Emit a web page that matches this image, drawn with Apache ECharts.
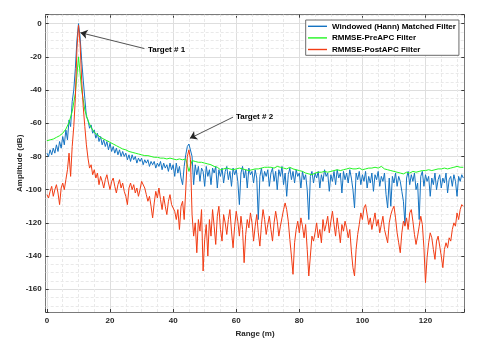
<!DOCTYPE html>
<html><head><meta charset="utf-8">
<script src="https://cdn.jsdelivr.net/npm/echarts@6/dist/echarts.min.js"></script>
<style>html,body{margin:0;padding:0;background:#fff}#c{width:491px;height:343px}</style>
</head><body><div id="c"></div>
<script>
// ---------- data ----------
const seriesNames = ['Windowed (Hann) Matched Filter', 'RMMSE-PreAPC Filter', 'RMMSE-PostAPC Filter'];
const fineStep = 0.5;   // range sample spacing (m) for the matched filter and PostAPC curves
const coarseStep = 1;   // range sample spacing (m) for the PreAPC curve

// Windowed (Hann) matched filter, dB, samples every 0.5 m from 0 m
const hannMF = [
  -78,-80,-76,-79,-75,-78,-73,-77,-71,-75,
  -68,-73,-64,-70,-58,-62,-47,-40,-27,-10,
  0,-8,-22,-34,-45,-56,-58,-63,-61,-66,
  -64,-69,-66,-71,-68,-73,-70,-74,-71,-76,
  -72,-77,-74,-78,-75,-79,-76,-80,-77,-80,
  -78,-82,-79,-83,-79,-82,-80,-84,-81,-83,
  -81,-85,-82,-84,-82,-86,-83,-85,-83,-87,
  -84,-86,-83,-88,-84,-87,-85,-89,-84,-88,
  -85,-92,-84,-90,-86,-93,-97,-86,-79,-74,
  -72.5,-73.5,-80,-97,-85,-91,-86,-95,-87,-89,
  -98,-86,-92,-88,-97,-87,-90,-86,-99,-88,
  -92,-87,-96,-89,-86,-94,-89,-98,-87,-91,
  -88,-95,-109,-90,-86,-93,-88,-99,-87,-91,
  -89,-96,-88,-93,-118,-92,-87,-95,-89,-92,
  -88,-98,-90,-87,-95,-89,-100,-88,-92,-86,
  -97,-90,-104,-91,-87,-94,-89,-96,-88,-92,
  -90,-99,-89,-94,-91,-100,-118,-92,-89,-96,
  -90,-93,-89,-99,-91,-95,-88,-92,-90,-101,
  -91,-95,-89,-97,-88,-93,-90,-102,-89,-94,
  -90,-96,-88,-93,-100,-111,-90,-94,-89,-97,
  -91,-95,-89,-99,-92,-96,-90,-101,-91,-94,
  -89,-98,-92,-95,-90,-103,-111,-93,-110,-92,
  -96,-90,-98,-92,-95,-101,-107,-121,-93,-89,
  -97,-91,-95,-90,-100,-96,-118,-92,-89,-98,
  -91,-95,-92,-104,-93,-97,-90,-100,-94,-91,
  -99,-93,-96,-90,-102,-94,-92,-98,-91,-95,
  -104,-92,-95,-91,-93
];

// RMMSE PreAPC filter, dB, samples every 1 m from 0 m
const preAPC = [
  -70.5,-70,-69.5,-68.5,-67.5,-66,-63.5,-59.5,-53,-42,
  -20,-40,-52,-58.5,-62.5,-65.5,-67,-68.5,-69.5,-70.5,
  -71.5,-72.5,-73.5,-74.5,-75.5,-76,-77,-77.5,-78,-78.5,
  -79,-79.5,-79.5,-80,-80.5,-80.5,-81,-81,-81.5,-81,
  -81.5,-82,-81.5,-82,-81.5,-89,-82.5,-83,-83.5,-83.5,
  -84,-84.5,-85,-86,-86.5,-88,-87.5,-87,-87.5,-88,
  -87.5,-87,-87.5,-88,-88.5,-88,-87.5,-87.5,-87,-86.5,
  -86.5,-86.5,-87,-86,-86.5,-87,-87.5,-86.5,-87.5,-88,
  -88.5,-89,-90,-90.5,-91,-90,-89.5,-89.5,-89,-89.5,
  -89,-88.5,-88,-88.5,-88,-87.5,-87,-87.5,-87.5,-87,
  -88,-87.5,-87,-87,-86.5,-87,-86,-87.5,-88,-88.5,
  -89,-89.5,-90,-90.5,-89.5,-90,-89,-89.5,-89,-88.5,
  -88.5,-88,-88.5,-88,-87.5,-87.5,-87,-87.5,-87,-86.5,
  -86,-86.5,-86.5
];

// RMMSE PostAPC filter, dB, samples every 0.5 m from 0 m
const postAPC = [
  -103,-105,-101,-98,-104,-100,-97,-102,-109,-99,
  -96,-100,-94,-88,-78,-92,-74,-62,-45,-15,
  -1,-12,-34,-50,-62,-73,-81,-87,-85,-91,
  -88,-93,-90,-97,-92,-95,-99,-94,-91,-96,
  -100,-95,-93,-98,-102,-97,-94,-99,-96,-101,
  -104,-109,-99,-96,-100,-97,-102,-99,-104,-100,
  -95,-94,-99,-103,-107,-104,-110,-117,-108,-101,
  -105,-99,-106,-112,-104,-110,-115,-107,-103,-109,
  -108,-113,-118,-112,-124,-110,-107,-118,-100,-80,
  -76,-82,-115,-128,-120,-138,-118,-125,-112,-149,
  -130,-121,-140,-118,-128,-112,-122,-133,-116,-110,
  -124,-131,-115,-120,-127,-118,-112,-125,-135,-122,
  -113,-119,-128,-116,-124,-144,-127,-118,-123,-114,
  -120,-131,-122,-115,-126,-134,-121,-112,-118,-127,
  -121,-116,-124,-131,-120,-113,-119,-128,-122,-117,
  -112,-108,-112,-119,-130,-140,-151,-132,-124,-119,
  -126,-117,-122,-129,-121,-136,-152,-140,-128,-131,
  -126,-120,-129,-124,-132,-118,-125,-121,-116,-126,
  -119,-113,-121,-128,-117,-124,-132,-121,-125,-119,
  -123,-129,-124,-137,-147,-152,-136,-127,-121,-114,
  -118,-111,-109,-115,-121,-117,-124,-119,-114,-122,
  -118,-126,-121,-116,-124,-128,-132,-120,-115,-112,
  -110,-117,-126,-132,-138,-126,-119,-122,-117,-124,
  -114,-112,-119,-127,-133,-128,-122,-116,-121,-135,
  -156,-141,-132,-126,-129,-136,-142,-131,-128,-134,
  -140,-147,-136,-132,-135,-129,-131,-124,-120,-122,
  -114,-118,-112,-109,-110
];

const xMajorTicks = [0, 20, 40, 60, 80, 100, 120];
const yMajorTicks = [0, -20, -40, -60, -80, -100, -120, -140, -160];
const minorStep = 5;

// annotation arrows (data coordinates): label anchor, arrow tail, arrow head
const annotationText = ['Target # 1', 'Target # 2'];
const annotationLabelAt = [[32.0, -15.7], [59.9, -56.0]];
const annotationTail = [[30.9, -15.0], [59.0, -56.3]];
const annotationHead = [[10.6, -5.4], [45.3, -69.1]];

// ---------- chart ----------
const FONT = '"Liberation Sans", Arial, Helvetica, sans-serif';
const colors = ['#1473c2', '#22f522', '#f23c14'];
const xMin = -0.4, xMax = 132.3, yMin = -173.7, yMax = 5.4;

function toPairs(vals, step) { return vals.map((v, i) => [i * step, v]); }

const minorLines = [];
for (let v = minorStep; v <= xMax; v += minorStep) if (v % 20 !== 0) minorLines.push({ xAxis: v });
for (let v = -170; v <= yMax; v += minorStep) if (v % 20 !== 0) minorLines.push({ yAxis: v });

const labelFmt = (ticks) => (v) => ticks.some(t => Math.abs(t - v) < 1e-6) ? String(v) : '';

const axisCommon = {
  type: 'value',
  axisLine: { show: true, onZero: false, lineStyle: { color: '#7a7a7a', width: 1 } },
  axisTick: { show: true, inside: true, length: 3, lineStyle: { color: '#3a3a3a', width: 1 } },
  minorTick: { show: false },
};
const tickLabel = { fontSize: 8, fontWeight: 'bold', color: '#262626', fontFamily: FONT };
const nameStyle = { fontSize: 8, fontWeight: 'bold', color: '#262626', fontFamily: FONT };

const chart = echarts.init(document.getElementById('c'), null, { renderer: 'canvas' });
chart.setOption({
  animation: false,
  backgroundColor: '#ffffff',
  grid: { left: 45.7, right: 26.7, top: 14.7, bottom: 28.7, containLabel: false },
  xAxis: [
    Object.assign({}, axisCommon, {
      min: xMin, max: xMax, splitNumber: 7, position: 'bottom',
      axisLabel: Object.assign({ margin: 5, formatter: labelFmt(xMajorTicks) }, tickLabel),
      splitLine: { show: true, lineStyle: { color: '#dedede', width: 1 } },
      name: 'Range (m)', nameLocation: 'middle', nameGap: 18, nameMoveOverlap: false,
      nameTextStyle: nameStyle
    }),
    Object.assign({}, axisCommon, {
      min: xMin, max: xMax, splitNumber: 7, position: 'top',
      axisLabel: { show: false }, splitLine: { show: false }
    })
  ],
  yAxis: [
    Object.assign({}, axisCommon, {
      min: yMin, max: yMax, splitNumber: 9, position: 'left',
      axisLabel: Object.assign({ margin: 4, formatter: labelFmt(yMajorTicks) }, tickLabel),
      splitLine: { show: true, lineStyle: { color: '#dedede', width: 1 } },
      name: 'Amplitude (dB)', nameLocation: 'middle', nameGap: 22, nameRotate: 90,
      nameMoveOverlap: false,
      nameTextStyle: nameStyle
    }),
    Object.assign({}, axisCommon, {
      min: yMin, max: yMax, splitNumber: 9, position: 'right',
      axisLabel: { show: false }, splitLine: { show: false }
    })
  ],
  legend: {
    data: seriesNames.map(n => ({ name: n, icon: 'rect' })),
    orient: 'vertical', left: 305.7, top: 20, z: 10,
    padding: [0.5, 3, 0, 2.3], itemWidth: 19, itemHeight: 1.4, itemGap: 0,
    backgroundColor: '#ffffff', borderColor: '#6a6a6a', borderWidth: 1, borderRadius: 0,
    selectedMode: false,
    textStyle: { fontSize: 8, fontWeight: 'bold', color: '#000', fontFamily: FONT, lineHeight: 11.6 }
  },
  series: [
    {
      type: 'line', name: '_grid', data: [], silent: true, z: 1,
      markLine: {
        silent: true, z: 1, symbol: ['none', 'none'], label: { show: false }, animation: false,
        lineStyle: { color: '#e9e9e9', width: 1, type: [3, 2] },
        data: minorLines
      }
    },
    {
      type: 'line', name: seriesNames[0], data: toPairs(hannMF, fineStep), z: 2,
      symbol: 'none', showSymbol: false, color: colors[0],
      lineStyle: { color: colors[0], width: 1 }
    },
    {
      type: 'line', name: seriesNames[1], data: toPairs(preAPC, coarseStep), z: 3,
      symbol: 'none', showSymbol: false, color: colors[1],
      lineStyle: { color: colors[1], width: 1 }
    },
    {
      type: 'line', name: seriesNames[2], data: toPairs(postAPC, fineStep), z: 4,
      symbol: 'none', showSymbol: false, color: colors[2],
      lineStyle: { color: colors[2], width: 1 }
    },
    {
      type: 'line', name: '_annot', data: [], silent: true, z: 6,
      markLine: {
        silent: true, z: 6, animation: false, symbol: ['none', 'arrow'], symbolSize: 7,
        label: { show: false },
        lineStyle: { color: '#262626', width: 0.8, type: 'solid' },
        data: annotationText.map((t, i) => [{ coord: annotationTail[i] }, { coord: annotationHead[i] }])
      },
      markPoint: {
        silent: true, z: 6, animation: false, symbol: 'circle', symbolSize: 0,
        label: { show: true, position: 'right', distance: 0, formatter: '{b}',
                 fontSize: 8, fontWeight: 'bold', color: '#000', fontFamily: FONT },
        data: annotationText.map((t, i) => ({ name: t, coord: annotationLabelAt[i] }))
      }
    }
  ]
});
</script>
</body></html>
